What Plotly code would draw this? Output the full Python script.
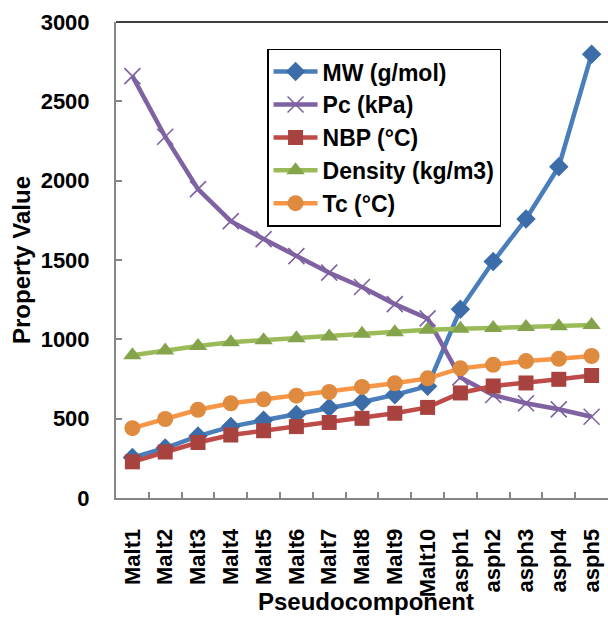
import plotly.graph_objects as go

categories = ["Malt1", "Malt2", "Malt3", "Malt4", "Malt5", "Malt6", "Malt7", "Malt8",
              "Malt9", "Malt10", "asph1", "asph2", "asph3", "asph4", "asph5"]
mw = [255, 315, 390, 450, 490, 527, 571, 605, 650, 705, 1189, 1490, 1758, 2088, 2796]
pc = [2659, 2277, 1947, 1745, 1632, 1524, 1420, 1330, 1222, 1132, 760, 649, 597, 559, 512]
nbp = [228, 290, 350, 397, 424, 450, 476, 502, 534, 571, 662, 706, 725, 748, 772]
density = [900, 930, 958, 982, 995, 1007, 1018, 1035, 1045, 1060, 1066, 1072, 1077, 1082, 1090]
tc = [440, 498, 556, 597, 622, 645, 668, 700, 723, 754, 817, 840, 863, 877, 895]
y_ticks = [0, 500, 1000, 1500, 2000, 2500, 3000]

series = [
    ("MW (g/mol)", mw, "#4a7ebb", "#3d6da8", "diamond", 15),
    ("Pc (kPa)", pc, "#7e62a1", "#7e62a1", "x-thin-open", 16),
    ("NBP (°C)", nbp, "#be4b48", "#a8423f", "square", 15),
    ("Density (kg/m3)", density, "#9bbb59", "#84a34b", "triangle-up", 16),
    ("Tc (°C)", tc, "#f79646", "#de8a3f", "circle", 16),
]

FAMILY = "Liberation Sans, Arial, sans-serif"
tick_font = dict(family=FAMILY, size=22, color="#000000", weight="bold")
title_font = dict(family=FAMILY, size=24, color="#000000", weight="bold")

fig = go.Figure()
for i, (name, vals, lc, mc, sym, sz) in enumerate(series):
    marker = dict(symbol=sym, size=sz, color=mc)
    if sym == "x-thin-open":
        marker["line"] = dict(color=mc, width=1.6)
    else:
        marker["line"] = dict(width=0)
    fig.add_trace(go.Scatter(
        x=categories, y=vals, name=name, mode="lines+markers",
        line=dict(color=lc, width=4.5), marker=marker,
        legendgroup=f"g{i}",
    ))

fig.update_layout(
    width=608, height=619,
    margin=dict(l=116, r=0, t=22, b=121),
    paper_bgcolor="white", plot_bgcolor="white",
    font=dict(family=FAMILY, size=22, color="#000000"),
    showlegend=True,
    legend=dict(
        x=0.307, y=0.944, xanchor="left", yanchor="top",
        bordercolor="#000000", borderwidth=1.5, bgcolor="white",
        font=dict(family=FAMILY, size=23, color="#000000", weight="bold"),
        traceorder="grouped", tracegroupgap=0, itemwidth=44,
    ),
)
fig.update_xaxes(
    type="category", categoryorder="array", categoryarray=categories,
    range=[-0.5, 14.5],
    showline=True, linecolor="#868686", linewidth=2,
    ticks="inside", ticklen=6, tickcolor="#868686", tickwidth=1.5,
    tickson="boundaries", showgrid=False, zeroline=False,
    tickangle=-90, ticklabelstandoff=20, automargin=False,
    tickfont=tick_font,
)
fig.update_yaxes(
    range=[0, 3000], tickmode="array", tickvals=y_ticks,
    showline=True, linecolor="#868686", linewidth=2,
    ticks="inside", ticklen=6, tickcolor="#868686", tickwidth=1.5,
    showgrid=False, zeroline=False, automargin=False,
    tickfont=tick_font, ticklabelstandoff=20,
    title=dict(text="Property Value", standoff=3, font=title_font),
)

# x-axis title placed below the rotated category labels
fig.add_annotation(
    text="Pseudocomponent", xref="paper", yref="paper",
    x=0.508, y=-0.25, xanchor="center", yanchor="bottom",
    showarrow=False, font=title_font,
)

# top border of the plotting area
fig.add_shape(type="line", xref="paper", yref="paper", x0=0, x1=1, y0=1, y1=1,
              line=dict(color="#404040", width=2))

fig.write_html("out.html")
